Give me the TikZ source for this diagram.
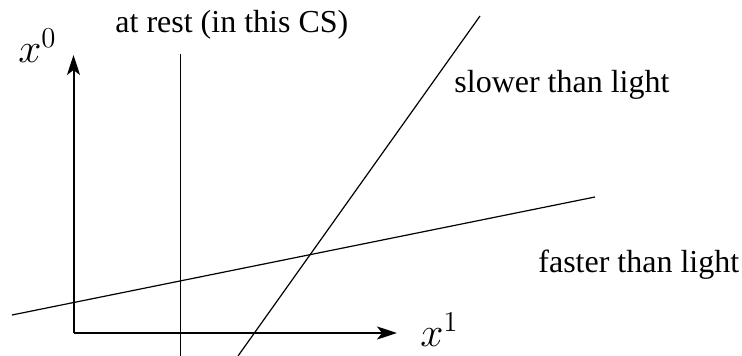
\documentclass[tikz,border=0pt]{standalone}
\usepackage{amsmath,amssymb}
\usepackage[no-math]{fontspec}
\setmainfont{LiberationSerif}[Extension=.ttf,UprightFont=*-Regular,BoldFont=*-Bold,ItalicFont=*-Italic]
\usetikzlibrary{arrows.meta}

\tikzset{
  axis/.style={line width=1pt,-{Stealth[length=10pt,width=6.5pt,inset=2.5pt]}},
  world/.style={line width=0.6pt},
  lbl/.style={anchor=base west,inner sep=0pt,font=\fontsize{16}{19}\selectfont},
  axlbl/.style={anchor=base west,inner sep=0pt,font=\fontsize{21}{25}\selectfont}
}

\begin{document}
\begin{tikzpicture}[x=0.5pt,y=-0.5pt]
\useasboundingbox (0,0) rectangle (742,356);
% axes
\coordinate (O) at (73.5,333);
\coordinate (t) at (73.5,55);
\coordinate (s) at (397,333);
\draw[axis] (O) -- (t);
\draw[axis] (O) -- (s);
\node[axlbl] (xnull) at (18,63) {$x^0$};
\node[axlbl] (xeins) at (420,347) {$x^1$};
% world lines
\coordinate (r0) at (180.5,54);
\coordinate (r1) at (180.5,356);
\draw[world] (r0) -- (r1);
\coordinate (v0) at (238,356);
\coordinate (v1) at (480,16);
\draw[world] (v0) -- (v1);
\coordinate (f0) at (12,315);
\coordinate (f1) at (595,197);
\draw[world] (f0) -- (f1);
\node[lbl] (rest) at (115,33) {at rest (in this CS)};
\node[lbl] (slow) at (454,93) {slower than light};
\node[lbl] (fast) at (538,273) {faster than light};
\end{tikzpicture}
\end{document}
